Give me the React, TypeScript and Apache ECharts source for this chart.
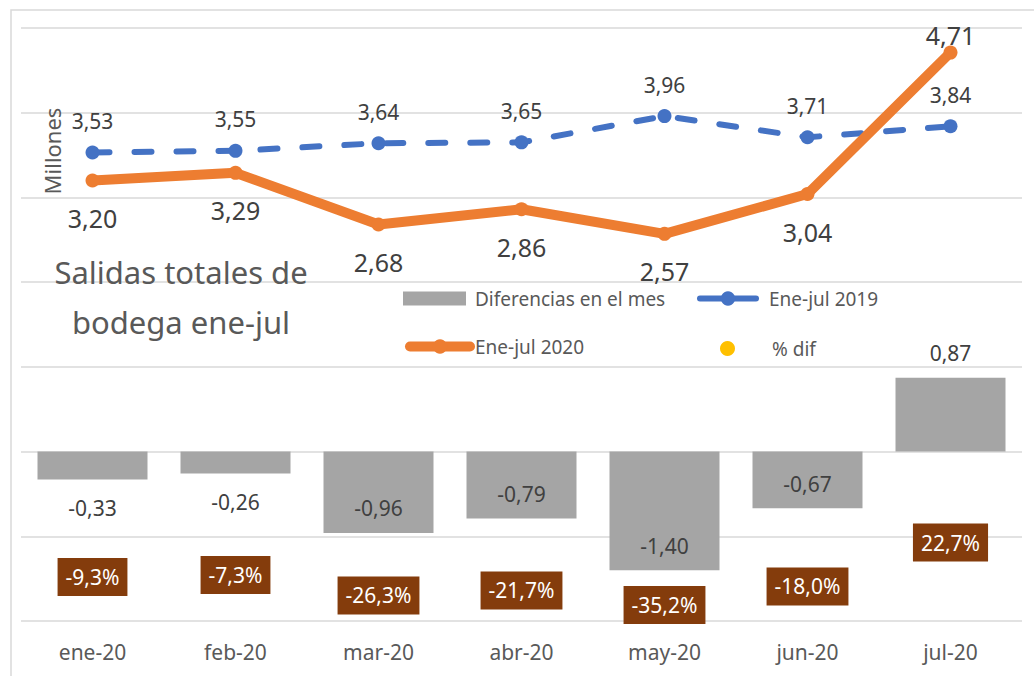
import { useEffect, useRef } from 'react';
import * as echarts from 'echarts';

const categories = ['ene-20', 'feb-20', 'mar-20', 'abr-20', 'may-20', 'jun-20', 'jul-20'];
const diffValues = [-0.33, -0.26, -0.96, -0.79, -1.4, -0.67, 0.87];
const values2019 = [3.53, 3.55, 3.64, 3.65, 3.96, 3.71, 3.84];
const values2020 = [3.2, 3.29, 2.68, 2.86, 2.57, 3.04, 4.71];
const pctValues = [-9.3, -7.3, -26.3, -21.7, -35.2, -18.0, 22.7];

const FONT = '"Noto Sans", "Open Sans", sans-serif';
const TXT = '#595959';
const LBL = '#404040';

const fmt2 = (v: number) => v.toFixed(2).replace('.', ',');
const fmtPct = (v: number) => v.toFixed(1).replace('.', ',') + '%';

export default function App() {
  const ref = useRef<HTMLDivElement>(null);
  useEffect(() => {
    if (!ref.current) return;
    const chart = echarts.init(ref.current, undefined, { renderer: 'svg' });

    const barData = diffValues.map((v) => {
      if (v >= 0) return { value: v, label: { position: 'top', distance: 14 } };
      if (Math.abs(v) < 0.5) return { value: v, label: { position: 'bottom', distance: 18 } };
      return { value: v, label: { position: 'insideBottom', distance: 14 } };
    });
    const data2020 = values2020.map((v, i) =>
      v > values2019[i]
        ? { value: v, label: { position: 'top', distance: -2 } }
        : { value: v }
    );

    const legendBase = {
      orient: 'horizontal',
      padding: 0,
      selectedMode: false,
      textStyle: { fontSize: 19, color: TXT, fontFamily: FONT },
    };

    chart.setOption({
      animation: false,
      backgroundColor: '#ffffff',
      textStyle: { fontFamily: FONT },
      grid: { left: 21, right: 12, top: 28, bottom: 55, containLabel: false },
      legend: [
        {
          ...legendBase,
          left: 403,
          top: 289,
          itemWidth: 63,
          itemHeight: 14,
          data: [{ name: 'Diferencias en el mes', icon: 'rect' }],
          textStyle: { ...legendBase.textStyle, padding: [0, 0, 0, 4] },
        },
        {
          ...legendBase,
          left: 697,
          top: 289,
          itemWidth: 56,
          itemHeight: 18,
          data: [
            {
              name: 'Ene-jul 2019',
              lineStyle: { type: 'solid', width: 6, cap: 'round', color: '#4472C4' },
            },
          ],
          textStyle: { ...legendBase.textStyle, padding: [0, 0, 0, 8] },
        },
        {
          ...legendBase,
          left: 405,
          top: 337,
          itemWidth: 60,
          itemHeight: 18,
          data: [
            {
              name: 'Ene-jul 2020',
              lineStyle: { type: 'solid', width: 10, cap: 'round', color: '#ED7D31' },
            },
          ],
        },
        {
          ...legendBase,
          left: 720,
          top: 339,
          itemWidth: 15,
          itemHeight: 15,
          data: [{ name: '% dif', icon: 'circle', itemStyle: { color: '#FFC000', opacity: 1 } }],
          textStyle: { ...legendBase.textStyle, padding: [0, 0, 0, 32] },
        },
      ],
      xAxis: {
        type: 'category',
        data: categories,
        axisLine: { show: false },
        axisTick: { show: false },
        axisLabel: { fontSize: 21, color: TXT, margin: 20, fontFamily: FONT },
      },
      yAxis: [
        {
          type: 'value',
          min: -2,
          max: 5,
          interval: 1,
          axisLabel: { show: false },
          axisLine: { show: false },
          axisTick: { show: false },
          splitLine: { lineStyle: { color: '#D9D9D9', width: 1.5 } },
        },
        {
          type: 'value',
          min: -50,
          max: 500,
          show: false,
          splitLine: { show: false },
        },
      ],
      series: [
        {
          name: 'Diferencias en el mes',
          type: 'bar',
          yAxisIndex: 0,
          barWidth: 110,
          data: barData,
          itemStyle: { color: '#A5A5A5' },
          label: {
            show: true,
            fontSize: 21,
            color: LBL,
            fontFamily: FONT,
            formatter: (p: any) => fmt2(p.value),
          },
          z: 1,
        },
        {
          name: 'Ene-jul 2019',
          type: 'line',
          yAxisIndex: 0,
          data: values2019,
          symbol: 'circle',
          symbolSize: 14,
          itemStyle: { color: '#4472C4' },
          lineStyle: { color: '#4472C4', width: 6, type: [17, 25], cap: 'round' },
          label: {
            show: true,
            position: 'top',
            distance: 14,
            fontSize: 21,
            color: LBL,
            fontFamily: FONT,
            formatter: (p: any) => fmt2(p.value),
          },
          z: 2,
        },
        {
          name: 'Ene-jul 2020',
          type: 'line',
          yAxisIndex: 0,
          data: data2020,
          symbol: 'circle',
          symbolSize: 14,
          itemStyle: { color: '#ED7D31' },
          lineStyle: { color: '#ED7D31', width: 10, cap: 'round', join: 'round' },
          label: {
            show: true,
            position: 'bottom',
            distance: 18,
            fontSize: 25,
            color: LBL,
            fontFamily: FONT,
            formatter: (p: any) => fmt2(p.value),
          },
          z: 3,
        },
        {
          name: '% dif',
          type: 'scatter',
          yAxisIndex: 1,
          data: pctValues,
          symbol: 'circle',
          symbolSize: 10,
          itemStyle: { color: '#FFC000', opacity: 1 },
          label: {
            show: true,
            position: 'inside',
            backgroundColor: '#843C0C',
            color: '#ffffff',
            opacity: 1,
            fontSize: 21,
            fontFamily: FONT,
            padding: [9, 8, 8, 8],
            formatter: (p: any) => fmtPct(p.value),
          },
          z: 4,
        },
      ],
      graphic: [
        {
          type: 'rect',
          shape: { x: 11, y: 10, width: 1100, height: 1000 },
          style: { fill: 'none', stroke: '#D9D9D9', lineWidth: 1.5 },
          silent: true,
          z: -10,
        },
        {
          type: 'text',
          x: 181,
          y: 297,
          style: {
            text: 'Salidas totales de\nbodega ene-jul',
            fontSize: 31,
            lineHeight: 50,
            fill: TXT,
            fontFamily: FONT,
            align: 'center',
            verticalAlign: 'middle',
          },
          z: 5,
        },
        {
          type: 'text',
          x: 52,
          y: 151,
          rotation: Math.PI / 2,
          style: {
            text: 'Millones',
            fontSize: 22,
            fill: TXT,
            fontFamily: FONT,
            align: 'center',
            verticalAlign: 'middle',
          },
          z: 5,
        },
      ],
    });
    return () => chart.dispose();
  }, []);
  return (
    <div
      ref={ref}
      style={{ position: 'fixed', left: 0, top: 0, width: 1034, height: 676, background: '#fff' }}
    />
  );
}
